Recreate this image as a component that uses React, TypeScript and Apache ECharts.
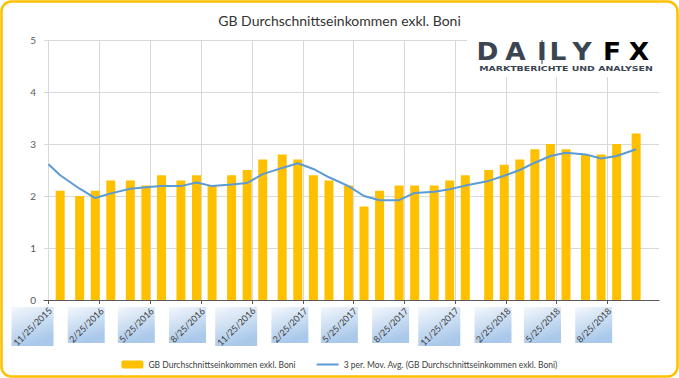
import React, { useEffect, useRef } from 'react';
import * as echarts from 'echarts';

const barDates = [
  '2015-12-16', '2016-01-20', '2016-02-17', '2016-03-16', '2016-04-20', '2016-05-18',
  '2016-06-15', '2016-07-20', '2016-08-17', '2016-09-14', '2016-10-19', '2016-11-16',
  '2016-12-14', '2017-01-18', '2017-02-15', '2017-03-15', '2017-04-12', '2017-05-17',
  '2017-06-14', '2017-07-12', '2017-08-16', '2017-09-13', '2017-10-18', '2017-11-15',
  '2017-12-13', '2018-01-24', '2018-02-21', '2018-03-21', '2018-04-17', '2018-05-15',
  '2018-06-12', '2018-07-17', '2018-08-14', '2018-09-11', '2018-10-16',
];
const barValues = [
  2.1, 2.0, 2.1, 2.3, 2.3, 2.2,
  2.4, 2.3, 2.4, 2.2, 2.4, 2.5,
  2.7, 2.8, 2.7, 2.4, 2.3, 2.2,
  1.8, 2.1, 2.2, 2.2, 2.2, 2.3,
  2.4, 2.5, 2.6, 2.7, 2.9, 3.0,
  2.9, 2.8, 2.8, 3.0, 3.2,
];
const lineStartDate = '2015-11-25';
const lineStartValue = 2.61;
const lineValues = [
  2.4, 2.14, 1.96, 2.05, 2.14, 2.17,
  2.19, 2.19, 2.26, 2.19, 2.22, 2.25,
  2.42, 2.54, 2.63, 2.52, 2.36, 2.19,
  2.0, 1.92, 1.92, 2.06, 2.08, 2.13,
  2.2, 2.29, 2.39, 2.5, 2.64, 2.77,
  2.83, 2.8, 2.72, 2.77, 2.9,
];
const tickDates = [
  '2015-11-25', '2016-02-25', '2016-05-25', '2016-08-25', '2016-11-25', '2017-02-25',
  '2017-05-25', '2017-08-25', '2017-11-25', '2018-02-25', '2018-05-25', '2018-08-25',
];
const tickLabels = [
  '11/25/2015', '2/25/2016', '5/25/2016', '8/25/2016', '11/25/2016', '2/25/2017',
  '5/25/2017', '8/25/2017', '11/25/2017', '2/25/2018', '5/25/2018', '8/25/2018',
];
const axisMinDate = '2015-11-25';
const axisMaxDate = '2018-11-18';

const TITLE = 'GB Durchschnittseinkommen exkl. Boni';
const BAR_NAME = 'GB Durchschnittseinkommen exkl. Boni';
const LINE_NAME = '3 per. Mov. Avg. (GB Durchschnittseinkommen exkl. Boni)';
const LOGO_SUB = 'MARKTBERICHTE UND ANALYSEN';

const FONT = 'Lato, "Open Sans", sans-serif';
const LOGO_FONT = '"DejaVu Sans", Lato, sans-serif';

function ts(s: string): number {
  const [y, m, d] = s.split('-').map(Number);
  return Date.UTC(y, m - 1, d);
}

function measure(text: string, font: string): number {
  const c = document.createElement('canvas').getContext('2d');
  if (!c) return text.length * 5;
  c.font = font;
  return c.measureText(text).width;
}

function logoElements(): any[] {
  const dark = '#3b4552';
  const orange = new echarts.graphic.LinearGradient(0, 0, 1, 1, [
    { offset: 0, color: '#f9a51a' },
    { offset: 1, color: '#ef7d22' },
  ]);
  const letters = [
    { ch: 'D', x: 487.5, c: dark },
    { ch: 'A', x: 515.5, c: dark },
    { ch: 'I', x: 542, c: dark },
    { ch: 'L', x: 558, c: dark },
    { ch: 'Y', x: 582, c: dark },
    { ch: 'F', x: 612, c: orange },
    { ch: 'X', x: 639, c: orange },
  ];
  const els: any[] = [
    { type: 'rect', shape: { x: 467, y: 33, width: 196, height: 44 }, style: { fill: '#ffffff' }, z: 100 },
  ];
  const bigFont = `900 24px ${LOGO_FONT}`;
  letters.forEach((l) => {
    els.push({
      type: 'text', x: l.x, y: 52, z: 101, scaleX: 1.1,
      style: { text: l.ch, fill: l.c, font: bigFont, align: 'center', verticalAlign: 'middle' },
    });
  });
  els.push({ type: 'line', shape: { x1: 542, y1: 40, x2: 542, y2: 64 }, style: { stroke: dark, lineWidth: 1 }, z: 101 });
  const subFont = `bold 6.5px ${LOGO_FONT}`;
  const w = measure(LOGO_SUB, subFont);
  els.push({
    type: 'text', x: 566, y: 69, z: 101,
    scaleX: 174 / Math.max(w, 1),
    style: { text: LOGO_SUB, fill: dark, font: subFont, align: 'center', verticalAlign: 'middle' },
  });
  return els;
}

export default function App() {
  const ref = useRef<HTMLDivElement>(null);
  useEffect(() => {
    if (!ref.current) return;
    document.body.style.margin = '0';
    const chart = echarts.init(ref.current, undefined, { renderer: 'svg' });
    const tickTs = tickDates.map(ts);
    const boxGradient = new echarts.graphic.LinearGradient(0, 0, 0.35, 1, [
      { offset: 0, color: '#f4f8fc' },
      { offset: 1, color: '#a9c8ea' },
    ]);
    chart.setOption({
      animation: false,
      backgroundColor: '#ffffff',
      textStyle: { fontFamily: FONT },
      title: {
        text: TITLE,
        left: 'center',
        top: 8,
        textStyle: { fontFamily: FONT, fontSize: 14, fontWeight: 'normal', color: '#333333' },
      },
      legend: {
        data: [
          { name: BAR_NAME },
          { name: LINE_NAME, itemStyle: { opacity: 0 } },
        ],
        top: 355,
        left: 'center',
        itemWidth: 22,
        itemHeight: 8,
        itemGap: 20,
        textStyle: { fontFamily: FONT, fontSize: 8.5, color: '#404040' },
      },
      grid: { left: 44, right: 20, top: 40, bottom: 78, containLabel: false },
      xAxis: {
        type: 'time',
        min: ts(axisMinDate),
        max: ts(axisMaxDate),
        axisLine: { show: true, lineStyle: { color: '#595959', width: 1 } },
        axisTick: { show: true, customValues: tickTs, length: 4, lineStyle: { color: '#595959' } },
        axisLabel: { show: false, customValues: tickTs },
        splitLine: { show: true, lineStyle: { color: '#d9d9d9', width: 1 } },
      },
      yAxis: {
        type: 'value',
        min: 0,
        max: 5,
        interval: 1,
        axisLine: { show: false },
        axisTick: { show: false },
        axisLabel: { color: '#595959', fontSize: 10, margin: 8, fontFamily: FONT },
        splitLine: { show: true, lineStyle: { color: '#d9d9d9', width: 1 } },
      },
      series: [
        {
          name: BAR_NAME,
          type: 'bar',
          barWidth: 9,
          itemStyle: { color: '#FFC000' },
          data: barDates.map((d, i) => [ts(d), barValues[i]]),
          z: 2,
        },
        {
          name: LINE_NAME,
          type: 'line',
          symbol: 'none',
          lineStyle: { color: '#5B9BD5', width: 2 },
          itemStyle: { color: '#5B9BD5' },
          data: [[ts(lineStartDate), lineStartValue]].concat(barDates.map((d, i) => [ts(d), lineValues[i]])),
          z: 3,
        },
        {
          name: 'tickBoxes',
          type: 'custom',
          silent: true,
          clip: false,
          encode: { x: 0, y: 1 },
          data: tickTs.map((t) => [t, 0]),
          renderItem: (params: any, api: any) => {
            const idx = params.dataIndex;
            const p = api.coord([api.value(0), 0]);
            const label = tickLabels[idx];
            const long = label.length >= 10;
            const w = long ? 42 : 37;
            const h = long ? 39 : 36;
            const bx = p[0] + 5 - w;
            const by = p[1] + 7;
            return {
              type: 'group',
              children: [
                { type: 'rect', shape: { x: bx, y: by, width: w, height: h }, style: { fill: boxGradient } },
                {
                  type: 'text',
                  x: bx + w / 2,
                  y: by + h / 2,
                  rotation: Math.PI / 4,
                  style: {
                    text: label,
                    fill: '#404040',
                    fontSize: 9,
                    fontFamily: FONT,
                    align: 'center',
                    verticalAlign: 'middle',
                  },
                },
              ],
            };
          },
          z: 4,
        },
      ],
      graphic: [
        ...logoElements(),
        {
          type: 'rect',
          shape: { x: 1.5, y: 1.5, width: 676, height: 375, r: 10 },
          style: { fill: 'none', stroke: '#FFC000', lineWidth: 2.5 },
          z: 200,
          silent: true,
        },
      ],
    });
    return () => chart.dispose();
  }, []);
  return <div ref={ref} style={{ position: 'fixed', left: 0, top: 0, width: 679, height: 378 }} />;
}
